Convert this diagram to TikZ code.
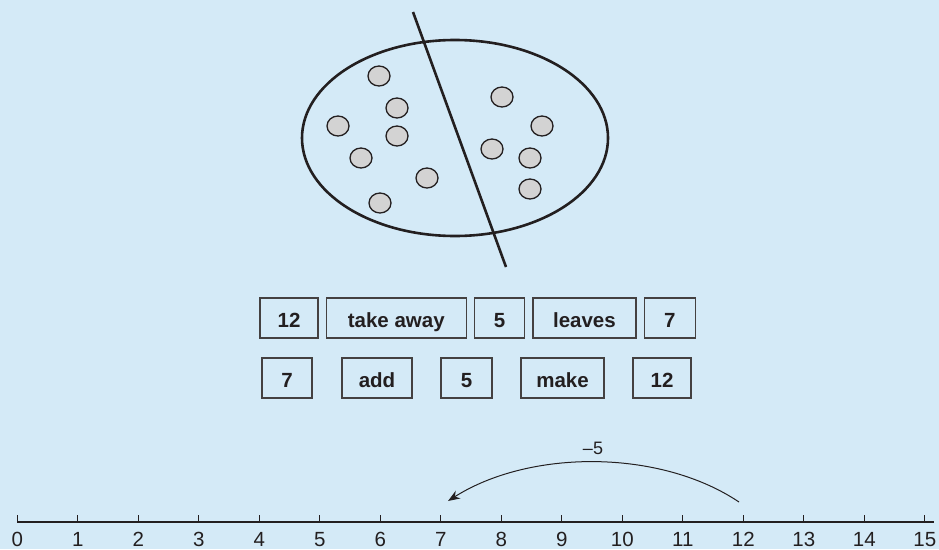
\documentclass[tikz,border=0pt]{standalone}
\usepackage{fontspec}
\setmainfont{Liberation Sans}
\usepackage{xcolor}
\definecolor{paper}{HTML}{D4EAF7}
\definecolor{ink}{HTML}{231F20}
\definecolor{counter}{HTML}{D3D3D3}
\usetikzlibrary{arrows.meta,positioning}

\tikzset{
  wordbox/.style={draw=ink!85, line width=1.3pt, minimum height=40pt, inner sep=0pt,
    text height=18.6pt, text depth=0pt,
    font=\fontsize{20.5}{24}\selectfont\bfseries, text=ink},
  counterdot/.style={draw=ink, line width=1.3pt, fill=counter},
  ticklabel/.style={font=\fontsize{20.5}{24}\selectfont, text=ink, anchor=base}
}

\begin{document}
\begin{tikzpicture}[x=1pt, y=-1pt, >=Stealth]
    \def\ox{17.3}
    \def\dx{60.5}
    \def\ly{522}

    % background
    \fill[paper] (0,0) rectangle (939,549);
    \useasboundingbox (0,0) rectangle (939,549);

    % set of counters, split in two
    \draw[ink, line width=2.6pt] (455,138) ellipse [x radius=153, y radius=98];
    \foreach \cx/\cy in {379/76, 397/108, 338/126, 397/136, 361/158, 427/178, 380/203,
                         502/97, 542/126, 492/149, 530/158, 530/189}
        \draw[counterdot] (\cx,\cy) ellipse [x radius=11, y radius=10];
    \draw[ink, line width=2.6pt] (413,12) -- (506,267);

    % first sentence
    \node[wordbox, minimum width=58pt] (w12a) at (289,318) {12};
    \node[wordbox, minimum width=140pt, right=7pt of w12a] (take) {take away};
    \node[wordbox, minimum width=50pt, right=7pt of take] (w5a) {5};
    \node[wordbox, minimum width=103pt, right=7pt of w5a] (leaves) {leaves};
    \node[wordbox, minimum width=51pt, right=7pt of leaves] (w7a) {7};

    % second sentence
    \node[wordbox, minimum width=50pt] (w7b) at (287,378) {7};
    \node[wordbox, minimum width=70pt] (add) at (377,378) {add};
    \node[wordbox, minimum width=51pt] (w5b) at (466.5,378) {5};
    \node[wordbox, minimum width=83pt] (make) at (562.5,378) {make};
    \node[wordbox, minimum width=58pt] (w12b) at (662,378) {12};

    % number line
    \coordinate (nl0) at (\ox,\ly);
    \coordinate (nlend) at (934,\ly);
    \draw[ink, line width=1.3pt] (nl0) -- (nlend);
    \foreach \n in {0,...,15} {
        \coordinate (t\n) at ({\ox+\n*\dx},\ly);
        \draw[ink, line width=1.3pt] (t\n) -- ++(0,-7);
        \node[ticklabel] (lab\n) at ({\ox+\n*\dx},546) {\n};
    }

    % jump back by five
    \coordinate (jumpstart) at (739,502);
    \coordinate (jumpend) at (448,501);
    \draw[-{Stealth[length=12pt, width=9pt]}, ink, line width=1pt]
        (jumpstart) .. controls (660,449) and (530,449) .. (jumpend);
    \node[font=\fontsize{18}{20}\selectfont, text=ink, anchor=base] (jumplab) at (593,454) {--5};
\end{tikzpicture}
\end{document}
